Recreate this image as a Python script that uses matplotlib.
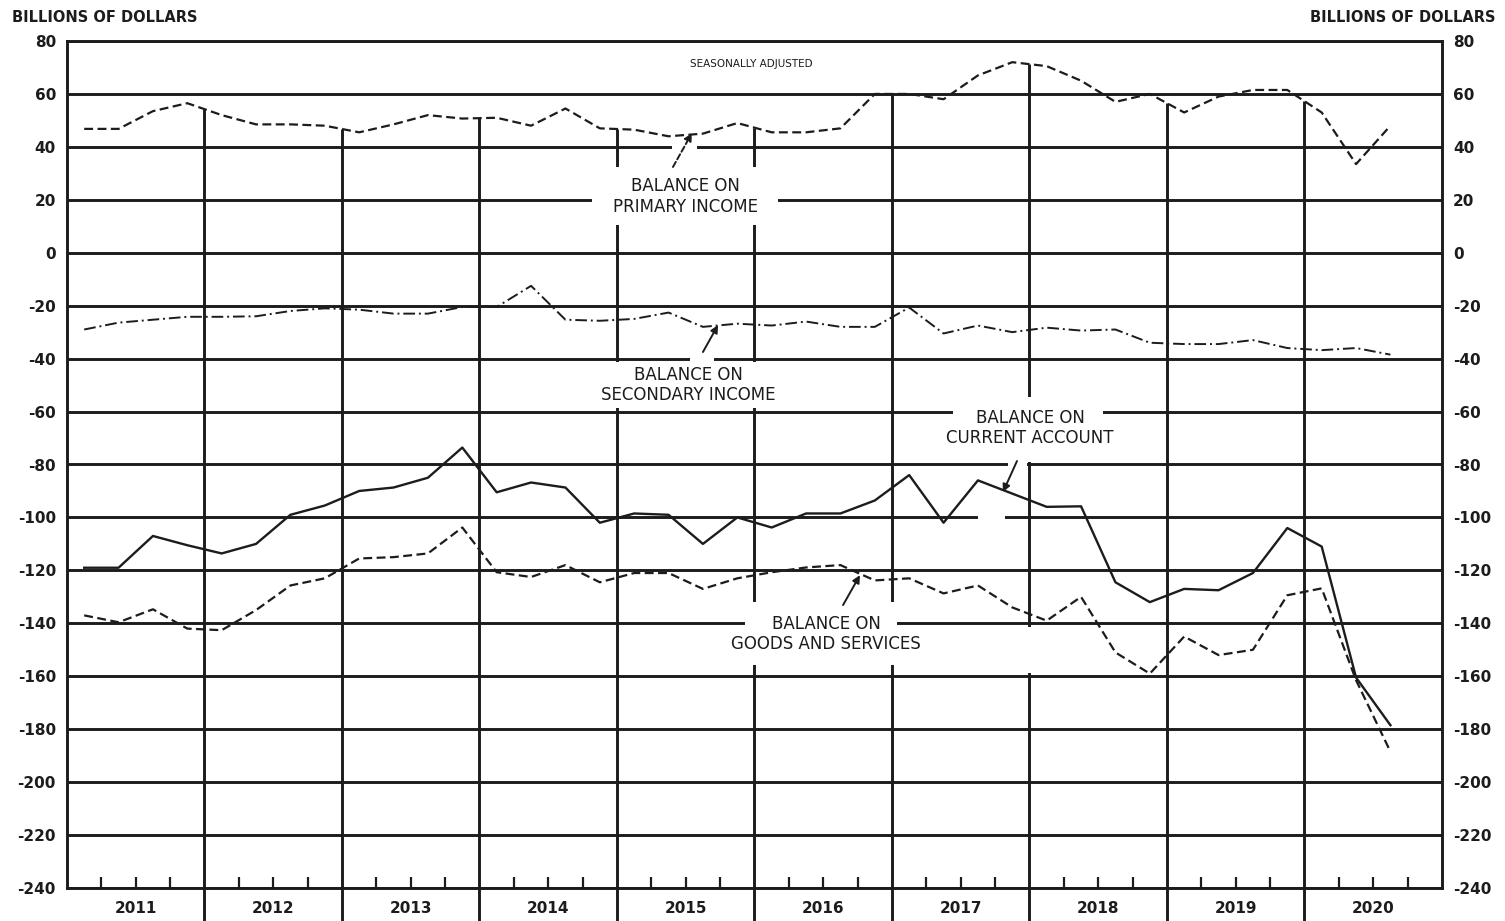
import matplotlib.pyplot as plt
from matplotlib.patches import Rectangle
import numpy as np

# quarterly, 2011 Q1 - 2020 Q3, billions of dollars (seasonally adjusted)
years = list(range(2011, 2021))
primary_income = [46.8, 46.8, 53.5, 56.5,
                  52.0, 48.5, 48.5, 48.0,
                  45.5, 48.5, 52.0, 50.7,
                  51.0, 48.0, 54.5, 47.0,
                  46.5, 44.0, 45.0, 49.0,
                  45.5, 45.5, 47.0, 60.0,
                  60.0, 58.0, 67.0, 72.0,
                  70.5, 65.0, 57.0, 60.0,
                  53.0, 59.0, 61.5, 61.5,
                  53.0, 33.5, 48.0]
secondary_income = [-29.0, -26.4, -25.3, -24.2,
                    -24.2, -24.0, -22.0, -21.0,
                    -21.5, -23.0, -23.0, -20.5,
                    -20.5, -12.5, -25.3, -25.7,
                    -25.0, -22.6, -28.0, -26.8,
                    -27.5, -26.0, -28.0, -28.0,
                    -20.7, -30.5, -27.5, -30.0,
                    -28.3, -29.4, -29.0, -34.0,
                    -34.5, -34.5, -33.0, -36.0,
                    -36.8, -36.0, -38.5]
current_account = [-119.0, -119.0, -107.0, -110.5,
                   -113.6, -110.0, -99.0, -95.5,
                   -90.0, -88.7, -85.0, -73.6,
                   -90.5, -86.8, -88.7, -102.0,
                   -98.5, -99.0, -110.0, -100.0,
                   -103.8, -98.5, -98.5, -93.6,
                   -84.0, -102.0, -86.0, -91.0,
                   -96.0, -95.8, -124.5, -132.0,
                   -127.0, -127.5, -121.0, -104.0,
                   -111.0, -160.5, -178.5]
goods_services = [-137.0, -139.6, -134.7, -142.0,
                  -142.6, -135.0, -125.7, -123.0,
                  -115.5, -115.0, -113.6, -103.8,
                  -120.7, -122.5, -118.0, -124.5,
                  -121.0, -121.0, -127.0, -123.0,
                  -120.7, -118.9, -118.0, -123.8,
                  -123.0, -128.7, -125.7, -134.0,
                  -139.0, -130.0, -151.0, -159.0,
                  -145.0, -152.0, -150.0, -129.4,
                  -126.8, -161.5, -188.5]

ink = "#1c1c1c"
plt.rcParams['font.family'] = ['DejaVu Sans']

x = years[0] + (np.arange(len(primary_income)) + 0.5) / 4

W, H = 1505, 921
fig = plt.figure(figsize=(W / 100, H / 100), dpi=100)
ax = fig.add_axes([67 / W, 1 - 888 / H, (1442 - 67) / W, (888 - 41) / H])
ax.set_xlim(years[0], years[-1] + 1)
ax.set_ylim(-240, 80)

yticks = list(range(-240, 81, 20))
ax.hlines(yticks, years[0], years[-1] + 1, color=ink, lw=2.1, zorder=1)

# year separators start at the primary income line and run below the axis
bounds = years[1:]
tops = [(primary_income[4 * k - 1] + primary_income[4 * k]) / 2 for k in range(1, len(years))]
ax.vlines(bounds, -253, tops, color=ink, lw=2.1, zorder=1, clip_on=False)

for s in ax.spines.values():
    s.set_linewidth(2.1)
    s.set_color(ink)

# white gaps behind labels and arrows
gaps = [(2014.818, 10.5, 1.353, 21.9),
        (2014.73, -58.6, 1.60, 17.2),
        (2017.444, -78.9, 1.091, 24.4),
        (2015.931, -155.8, 1.105, 23.9),
        (2015.40, 37.5, 0.18, 5),
        (2015.53, -42.5, 0.175, 5),
        (2017.844, -82.5, 0.14, 5),
        (2017.625, -102.6, 0.197, 5.6),
        (2017.97, -158.8, 0.06, 17.4)]
for gx, gy, gw, gh in gaps:
    ax.add_patch(Rectangle((gx, gy), gw, gh, facecolor="white", edgecolor="none", zorder=2))

ax.plot(x, primary_income, color=ink, lw=1.6, dashes=(4, 2), zorder=3)
ax.plot(x, secondary_income, color=ink, lw=1.4, dashes=(6, 2, 1, 2), zorder=3)
ax.plot(x, current_account, color=ink, lw=1.7, zorder=3)
ax.plot(x, goods_services, color=ink, lw=1.6, dashes=(4, 2), zorder=3)

lab = dict(ha="center", va="center", fontsize=12, color=ink, zorder=4)
ax.text(2015.50, 21.4, "BALANCE ON\nPRIMARY INCOME", **lab)
ax.text(2015.516, -50.0, "BALANCE ON\nSECONDARY INCOME", **lab)
ax.text(2018.004, -66.2, "BALANCE ON\nCURRENT ACCOUNT", **lab)
ax.text(2016.52, -144.0, "BALANCE ON\nGOODS AND SERVICES", **lab)
ax.text(2015.98, 71.3, "SEASONALLY ADJUSTED", ha="center", va="center",
        fontsize=7.5, color=ink, zorder=4)

arrows = [((2015.545, 45.2), (2015.407, 32.4), (0, (3, 1.5))),
          ((2015.735, -27.3), (2015.625, -37.5), "-"),
          ((2017.807, -90.4), (2017.909, -78.7), "-"),
          ((2016.767, -121.8), (2016.644, -133.1), "-")]
for tip, tail, ls in arrows:
    ax.annotate("", xy=tip, xytext=tail, zorder=4,
                arrowprops=dict(arrowstyle="-|>", color=ink, lw=1.4, linestyle=ls,
                                mutation_scale=11, shrinkA=0, shrinkB=0))

ax.set_xticks([y + 0.5 for y in years])
ax.set_xticklabels([str(y) for y in years], fontsize=11, fontweight="bold", color=ink)
ax.set_xticks([y + q for y in years for q in (0.25, 0.75)], minor=True)
ax.tick_params(axis="x", which="both", direction="in", length=8, width=1.6,
               color=ink, top=False, pad=9)

ax.set_yticks(yticks)
ax.set_yticklabels([str(v) for v in yticks], fontsize=11, fontweight="bold", color=ink)
ax.tick_params(axis="y", length=0, labelleft=True, labelright=True, pad=8)

fig.text(12 / W, 1 - 18 / H, "BILLIONS OF DOLLARS", ha="left", va="center",
         fontsize=10.5, fontweight="bold", color=ink)
fig.text(1495 / W, 1 - 18 / H, "BILLIONS OF DOLLARS", ha="right", va="center",
         fontsize=10.5, fontweight="bold", color=ink)

fig.savefig("out.png", dpi=100, facecolor="white")
